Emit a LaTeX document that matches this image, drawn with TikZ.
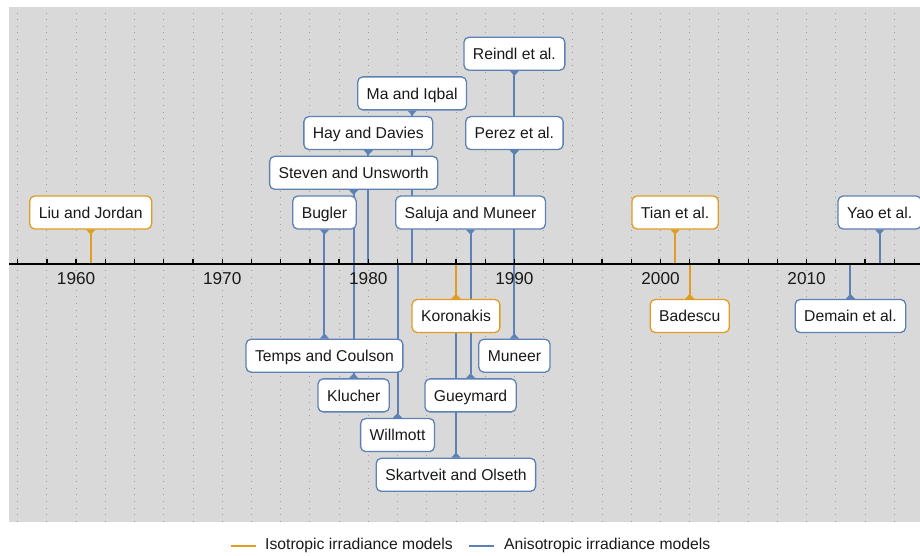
\documentclass[tikz,border=0pt]{standalone}
\usepackage{fontspec}
\setmainfont{Liberation Sans}
\usepackage{tikz}
\usetikzlibrary{arrows.meta,backgrounds}
\definecolor{isoorange}{HTML}{E19C24}
\definecolor{anisoblue}{HTML}{5E81B5}
\definecolor{plotgray}{HTML}{D9D9D9}
\newcommand{\modelfont}{\fontsize{15.7}{18}\selectfont}
\newcommand{\yearfont}{\fontsize{17.2}{20}\selectfont}
\tikzset{
  model/.style = {align=center, rounded corners=5pt, fill=white,
    line width=1.3pt, font=\modelfont, text=black!90, inner xsep=9pt,
    text height=11.3pt, text depth=0pt, minimum height=33pt},
  mod_i/.style = {model, draw=isoorange},% isotropic model
  mod_a/.style = {model, draw=anisoblue},% anisotropic model
  stem_i/.style = {draw=isoorange, line width=2pt,
    -{Triangle[reversed, length=5pt, width=9pt]}},% isotropic stem
  stem_a/.style = {draw=anisoblue, line width=2pt,
    -{Triangle[reversed, length=5pt, width=9pt]}},% anisotropic stem
  key_i/.style = {draw=isoorange, line width=2.2pt},% legend key
  key_a/.style = {draw=anisoblue, line width=2.2pt},
  grid_dots/.style = {black!38, line width=0.9pt, dash pattern=on 0.9pt off 5.7pt},
  year_tick/.style = {black, line width=1.3pt},
  year_lab/.style = {font=\yearfont, text=black!90, inner sep=0pt},
  leg_lab/.style = {font=\modelfont, text=black!90, inner sep=0pt, anchor=west}
}

\begin{document}
\begin{tikzpicture}[x=14.61pt, y=1pt]
	\useasboundingbox (-5.209,-292) rectangle (57.762,264);
	% plot area
	\begin{scope}[on background layer]
	\fill[plotgray] (-4.593,-257.7) rectangle (57.762,257);
	\foreach \y in {-4,-2,...,56}
		\draw[grid_dots] (\y,-257.7) -- (\y,257);
	\end{scope}
	% time axis
	\coordinate (ax_l) at (-4.593,0);
	\coordinate (ax_r) at (57.762,0);
	\draw[line width=2pt] (ax_l) -- (ax_r);
	\foreach \y in {-4,-2,...,56}
		\draw[year_tick] (\y,0) -- (\y,4.5);
	\foreach \y/\t in {0/1960,10/1970,20/1980,30/1990,40/2000,50/2010}
		\node[year_lab] (lab\t) at (\y,-15) {\t};
	\foreach \y in {1,17,19,20,22,23,26,27,30,41,42,53,55}
		\coordinate (y\y) at (\y,0);
	% models above the axis
	\node[mod_i] (liu) at (1,51.5) {Liu and Jordan};
	\node[mod_a] (bugler) at (17,51.5) {Bugler};
	\node[mod_a] (steven) at (19,91.2) {Steven and Unsworth};
	\node[mod_a] (hay) at (20,130.9) {Hay and Davies};
	\node[mod_a] (ma) at (23,170.6) {Ma and Iqbal};
	\node[mod_a] (saluja) at (27,51.5) {Saluja and Muneer};
	\node[mod_a] (perez) at (30,130.9) {Perez et al.};
	\node[mod_a] (reindl) at (30,210.3) {Reindl et al.};
	\node[mod_i] (tian) at (41,51.5) {Tian et al.};
	\node[mod_a] (yao) at (55,51.5) {Yao et al.};
	% models below the axis
	\node[mod_i] (koronakis) at (26,-52) {Koronakis};
	\node[mod_a] (temps) at (17,-91.7) {Temps and Coulson};
	\node[mod_a] (muneer) at (30,-91.7) {Muneer};
	\node[mod_a] (klucher) at (19,-131.4) {Klucher};
	\node[mod_a] (gueymard) at (27,-131.4) {Gueymard};
	\node[mod_a] (willmott) at (22,-171.1) {Willmott};
	\node[mod_a] (skartveit) at (26,-210.8) {Skartveit and Olseth};
	\node[mod_i] (badescu) at (42,-52) {Badescu};
	\node[mod_a] (demain) at (53,-52) {Demain et al.};
	% stems
	\begin{scope}[on background layer]
	\draw[stem_a] (y17) -- (bugler);
	\draw[stem_a] (y19) -- (steven);
	\draw[stem_a] (y20) -- (hay);
	\draw[stem_a] (y23) -- (ma);
	\draw[stem_a] (y27) -- (saluja);
	\draw[stem_a] (y30) -- (perez);
	\draw[stem_a] (y30) -- (reindl);
	\draw[stem_a] (y55) -- (yao);
	\draw[stem_a] (y17) -- (temps);
	\draw[stem_a] (y19) -- (klucher);
	\draw[stem_a] (y22) -- (willmott);
	\draw[stem_a] (y26) -- (skartveit);
	\draw[stem_a] (y27) -- (gueymard);
	\draw[stem_a] (y30) -- (muneer);
	\draw[stem_a] (y53) -- (demain);
	\draw[stem_i] (y1) -- (liu);
	\draw[stem_i] (y41) -- (tian);
	\draw[stem_i] (y26) -- (koronakis);
	\draw[stem_i] (y42) -- (badescu);
	\end{scope}
	% legend
	\node[leg_lab] (leg_i) at (12.93,-281.7) {Isotropic irradiance models};
	\node[leg_lab] (leg_a) at (29.29,-281.7) {Anisotropic irradiance models};
	\coordinate (key_i) at (10.58,-281.7);
	\coordinate (key_a) at (26.91,-281.7);
	\draw[key_i] (key_i) -- ([xshift=-9pt]leg_i.west);
	\draw[key_a] (key_a) -- ([xshift=-10pt]leg_a.west);
\end{tikzpicture}
\end{document}
